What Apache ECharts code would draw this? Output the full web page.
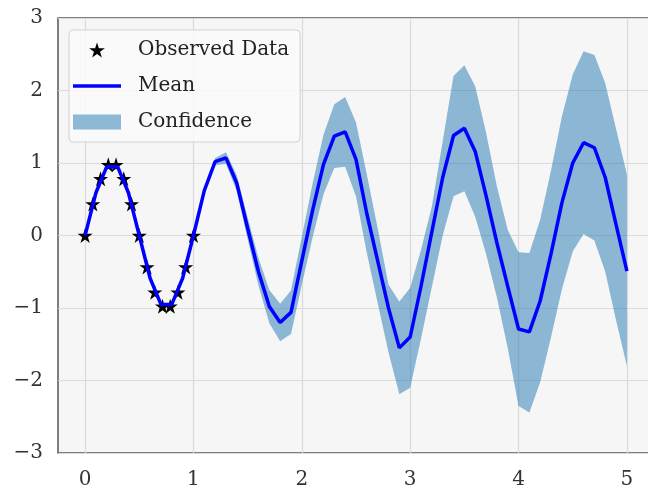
<!DOCTYPE html>
<html>
<head>
<meta charset="utf-8">
<script src="https://cdn.jsdelivr.net/npm/echarts@6/dist/echarts.min.js"></script>
<style>
  html, body { margin: 0; padding: 0; background: #ffffff; }
  #chart { width: 648px; height: 490px; }
</style>
</head>
<body>
<div id="chart"></div>
<script>
// Training observations: 15 samples of one period on [0, 1]
const trainX = [0, 0.0714, 0.1429, 0.2143, 0.2857, 0.3571, 0.4286, 0.5,
                0.5714, 0.6429, 0.7143, 0.7857, 0.8571, 0.9286, 1.0];
const trainY = [0, 0.4339, 0.7818, 0.9749, 0.9749, 0.7818, 0.4339, 0,
                -0.4339, -0.7818, -0.9749, -0.9749, -0.7818, -0.4339, 0];

// Prediction grid
const testX = [0.0, 0.1, 0.2, 0.3, 0.4, 0.5, 0.6, 0.7, 0.8, 0.9,
               1.0, 1.1, 1.2, 1.3, 1.4, 1.5, 1.6, 1.7, 1.8, 1.9,
               2.0, 2.1, 2.2, 2.3, 2.4, 2.5, 2.6, 2.7, 2.8, 2.9,
               3.0, 3.1, 3.2, 3.3, 3.4, 3.5, 3.6, 3.7, 3.8, 3.9,
               4.0, 4.1, 4.2, 4.3, 4.4, 4.5, 4.6, 4.7, 4.8, 4.9,
               5.0];

// Predictive mean
const meanY = [0, 0.59, 0.95, 0.95, 0.59, 0, -0.59, -0.95, -0.95, -0.59,
               0, 0.62, 1.02, 1.07, 0.72, 0.10, -0.50, -0.98, -1.20, -1.06,
               -0.35, 0.35, 0.98, 1.37, 1.43, 1.05, 0.30, -0.35, -1.00, -1.55,
               -1.40, -0.70, 0.05, 0.80, 1.38, 1.48, 1.16, 0.55, -0.10, -0.70,
               -1.29, -1.33, -0.90, -0.25, 0.45, 1.00, 1.28, 1.21, 0.80, 0.15,
               -0.49];

// Confidence region bounds
const upperY = [0.01, 0.60, 0.96, 0.96, 0.60, 0.01, -0.58, -0.94, -0.94, -0.58,
                0.01, 0.65, 1.07, 1.15, 0.83, 0.25, -0.31, -0.75, -0.94, -0.76,
                -0.02, 0.72, 1.39, 1.81, 1.91, 1.56, 0.84, 0.10, -0.68, -0.91,
                -0.72, -0.20, 0.40, 1.30, 2.20, 2.35, 2.06, 1.42, 0.68, 0.08,
                -0.23, -0.24, 0.22, 0.90, 1.64, 2.22, 2.54, 2.49, 2.10, 1.47,
                0.84];
const lowerY = [-0.01, 0.58, 0.94, 0.94, 0.58, -0.01, -0.60, -0.96, -0.96, -0.60,
                -0.01, 0.59, 0.97, 0.99, 0.61, -0.05, -0.69, -1.21, -1.46, -1.36,
                -0.68, -0.02, 0.57, 0.93, 0.95, 0.54, -0.24, -0.93, -1.61, -2.19,
                -2.10, -1.42, -0.71, 0.00, 0.54, 0.61, 0.26, -0.25, -0.85, -1.55,
                -2.35, -2.44, -2.02, -1.40, -0.74, -0.22, 0.02, -0.07, -0.50, -1.17,
                -1.80];

const xTicks = [0, 1, 2, 3, 4, 5];
const yTicks = [-3, -2, -1, 0, 1, 2, 3];

const FONT = 'DejaVu Serif';
const STAR = 'path://M100,0 L122.45,69.1 L195.1,69.1 L136.3,111.8 L158.8,180.9 ' +
             'L100,138.2 L41.2,180.9 L63.7,111.8 L4.9,69.1 L77.55,69.1 Z';
const LINE_ICON = 'path://M0,0 L48,0 L48,3.5 L0,3.5 Z';
const BAND = 'rgba(31,119,180,0.5)';

const pairs = (xs, ys) => xs.map((x, i) => [x, ys[i]]);
const fmtMinus = v => (v < 0 ? '\u2212' + Math.abs(v) : String(v));

// The confidence region is one closed polygon: upper bound left-to-right,
// then lower bound right-to-left, projected through the cartesian axes.
function renderBand(params, api) {
  if (params.dataIndex !== 0) return null;
  const pts = [];
  for (let i = 0; i < testX.length; i++) pts.push(api.coord([testX[i], upperY[i]]));
  for (let i = testX.length - 1; i >= 0; i--) pts.push(api.coord([testX[i], lowerY[i]]));
  return {
    type: 'polygon',
    shape: { points: pts },
    style: { fill: BAND },
    silent: true
  };
}

const chart = echarts.init(document.getElementById('chart'), null, { renderer: 'canvas' });
chart.setOption({
  animation: false,
  backgroundColor: '#ffffff',
  grid: {
    left: 58, top: 18, right: -6, bottom: 37,
    show: true,
    backgroundColor: '#f6f6f6',
    borderColor: '#555555',
    borderWidth: 1.5,
    containLabel: false,
    outerBoundsMode: 'none'
  },
  xAxis: {
    type: 'value',
    min: -0.25,
    max: 5.25,
    axisLine: { show: false },
    axisTick: { show: false, customValues: xTicks },
    axisLabel: {
      customValues: xTicks,
      formatter: fmtMinus,
      fontFamily: FONT, fontSize: 20, color: '#333333', margin: 17
    },
    splitLine: { show: true, lineStyle: { color: '#dadada', width: 1.2 } }
  },
  yAxis: {
    type: 'value',
    min: yTicks[0],
    max: yTicks[yTicks.length - 1],
    interval: 1,
    axisLine: { show: false },
    axisTick: { show: false },
    axisLabel: {
      formatter: fmtMinus,
      fontFamily: FONT, fontSize: 20, color: '#333333', margin: 15
    },
    splitLine: { show: true, lineStyle: { color: '#dadada', width: 1.2 } }
  },
  legend: {
    orient: 'vertical',
    left: 69, top: 30,
    itemWidth: 48, itemHeight: 15, itemGap: 16,
    padding: [10, 11, 10, 4],
    backgroundColor: 'rgba(250,250,250,0.85)',
    borderColor: '#d2d2d2', borderWidth: 1, borderRadius: 4,
    textStyle: { fontFamily: FONT, fontSize: 20, color: '#222222', padding: [0, 0, 0, 12] },
    data: [
      { name: 'Observed Data', icon: STAR, itemStyle: { color: '#000000' } },
      { name: 'Mean', icon: LINE_ICON, itemStyle: { color: '#0000ff' } },
      { name: 'Confidence', icon: 'rect', itemStyle: { color: BAND } }
    ]
  },
  series: [
    {
      name: 'Confidence',
      type: 'custom',
      data: pairs(testX, upperY),
      renderItem: renderBand,
      itemStyle: { color: BAND },
      silent: true,
      z: 1
    },
    {
      name: 'Observed Data',
      type: 'scatter',
      data: pairs(trainX, trainY),
      symbol: STAR,
      symbolSize: 15,
      itemStyle: { color: '#000000', opacity: 1 },
      z: 2
    },
    {
      name: 'Mean',
      type: 'line',
      data: pairs(testX, meanY),
      symbol: 'none',
      color: '#0000ff',
      lineStyle: { color: '#0000ff', width: 3.5 },
      z: 3
    }
  ]
});
</script>
</body>
</html>
